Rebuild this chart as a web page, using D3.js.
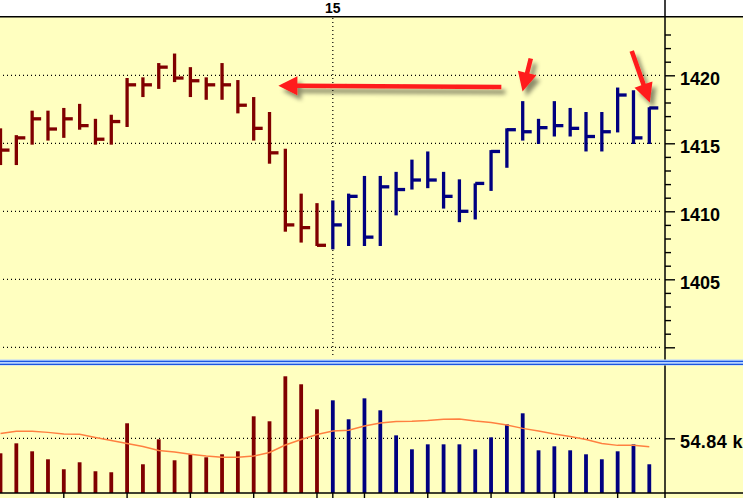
<!DOCTYPE html>
<html><head><meta charset="utf-8">
<script src="https://cdn.jsdelivr.net/npm/d3@7"></script>
<style>html,body{margin:0;padding:0;background:#fff;overflow:hidden}svg{display:block}</style>
</head><body><svg id="c" width="743" height="498"></svg>
<script>
// ---- data (15-minute HLC bars, two sessions) ----
const barIndex = [0,1,2,3,4,5,6,7,8,9,10,11,12,13,14,15,16,17,18,19,20,21,22,23,24,25,26,27,28,29,30,31,32,33,34,35,36,37,38,39,40,41];
const high  = [1416.1,1415.6,1417.4,1417.4,1417.6,1417.9,1416.8,1417.1,1419.8,1419.85,1420.9,1421.6,1420.6,1419.85,1420.9,1419.65,1418.4,1417.3,1414.6,1411.3,1410.6,
               1410.8,1411.3,1412.6,1412.6,1412.9,1413.8,1414.4,1412.9,1412.35,1412.05,1414.5,1416.1,1418.1,1416.8,1418.1,1417.6,1417.3,1417.3,1419.1,1418.9,1417.65];
const low   = [1413.4,1413.4,1414.9,1415.2,1415.4,1416.0,1414.9,1414.9,1416.2,1418.4,1419.0,1419.5,1418.4,1418.2,1418.2,1417.2,1415.2,1413.5,1408.5,1407.7,1407.45,
               1407.2,1407.45,1407.45,1407.45,1409.7,1411.6,1411.7,1410.2,1409.2,1409.4,1411.5,1413.2,1415.2,1414.95,1415.5,1415.5,1414.4,1414.4,1415.8,1414.95,1414.95];
const close = [1414.5,1415.4,1416.8,1416.05,1416.8,1416.3,1415.3,1416.6,1419.3,1419.3,1420.6,1419.8,1419.6,1419.3,1419.3,1417.8,1416.1,1414.3,1409.0,1408.8,1407.5,
               1409.0,1411.1,1408.1,1411.8,1411.6,1412.3,1412.3,1411.1,1410.0,1412.05,1414.4,1416.0,1415.85,1416.15,1416.3,1416.1,1415.5,1415.85,1418.55,1415.4,1417.6];
const volume = [39.8,49.8,41.8,33.8,23.8,30.8,21.8,20.8,69.9,28.8,53.8,32.8,38.8,35.8,38.8,41.8,76.9,71.9,117.0,109.0,83.9,
                92.9,73.9,94.9,82.9,57.8,43.8,48.8,48.8,48.8,43.8,55.8,68.9,79.9,42.8,46.8,42.8,38.8,33.8,41.8,48.8,28.8];
const volumeAvg = [59.6,61.9,61.9,60.8,59.1,58.9,55.6,52.6,49.6,46.6,42.6,41.1,38.8,37.1,35.8,35.8,37.1,40.6,48.1,53.6,58.6,
                   62.2,62.9,67.2,70.2,71.7,71.9,72.7,73.9,74.2,72.2,70.7,68.2,64.8,62.2,59.1,56.6,53.6,49.6,47.8,47.8,46.4];
const dayStartBar = 21;          // first bar of day 15
const dayLabel = "15";
const hourTickBars = [4,8,12,16,20,21,23,27,31,35,39];
const priceMajorTicks = [1420,1415,1410,1405,1400];
const priceTickLabels = ["1420","1415","1410","1405",""];
const priceMinorTicks = [1423,1422,1421,1419,1418,1417,1416,1414,1413,1412,1411,1409,1408,1407,1406,1404,1403,1402,1401];
const volumeRefValue = 54.84;
const volumeRefLabel = "54.84 k";
// annotation arrows in data coordinates [barIndex, price]
const arrows = [
  {from:[31.65,1419.14], to:[17.56,1419.24]},
  {from:[33.51,1421.24], to:[32.99,1418.81]},
  {from:[39.89,1421.79], to:[41.03,1418.0]}
];

// ---- layout ----
const W = 743, H = 498, axisX = 665;
const bg = "#ffffc0", upCol = "#000080", dnCol = "#800000";
const svg = d3.select("#c");
const x = d3.scaleLinear().domain([0,41]).range([0.5,649.3]);
const yP = d3.scaleLinear().domain([1400,1420]).range([347.3,75.3]);
const yV = d3.scaleLinear().domain([0,volumeRefValue]).range([493,438.3]);
const colorOf = i => i >= dayStartBar ? upCol : dnCol;

const defs = svg.append("defs");
const f = defs.append("filter").attr("id","sh").attr("x","-50%").attr("y","-50%").attr("width","200%").attr("height","200%");
f.append("feDropShadow").attr("dx",4).attr("dy",5).attr("stdDeviation",2).attr("flood-color","#000").attr("flood-opacity",0.45);

svg.append("rect").attr("width",W).attr("height",H).attr("fill",bg);
svg.append("rect").attr("width",W).attr("height",16.5).attr("fill","#fff");
svg.append("line").attr("x1",0).attr("x2",W).attr("y1",16.8).attr("y2",16.8).attr("stroke","#000").attr("stroke-width",1.5);

// grid
const g = svg.append("g");
g.selectAll("line.pg").data(priceMajorTicks).join("line")
  .attr("x1",3).attr("x2",axisX-2).attr("y1",d=>yP(d)).attr("y2",d=>yP(d))
  .attr("stroke","#000").attr("stroke-width",1.2).attr("stroke-dasharray","1,3");
g.append("line").attr("x1",x(dayStartBar)).attr("x2",x(dayStartBar)).attr("y1",18).attr("y2",358)
  .attr("stroke","#000").attr("stroke-width",1.2).attr("stroke-dasharray","1,3");
g.append("line").attr("x1",3).attr("x2",axisX-2).attr("y1",yV(volumeRefValue)).attr("y2",yV(volumeRefValue))
  .attr("stroke","#000").attr("stroke-width",1.2).attr("stroke-dasharray","1,3");

// day label
svg.append("text").attr("x",x(dayStartBar)).attr("y",12.8).attr("text-anchor","middle")
  .attr("font-family","Liberation Sans, Arial, sans-serif").attr("font-weight","bold").attr("font-size",14).text(dayLabel);

// price bars
const pb = svg.append("g");
pb.selectAll("line.v").data(barIndex).join("line")
  .attr("x1",i=>x(i)).attr("x2",i=>x(i)).attr("y1",i=>yP(high[i])).attr("y2",i=>yP(low[i]))
  .attr("stroke",colorOf).attr("stroke-width",3.3);
pb.selectAll("line.c").data(barIndex).join("line")
  .attr("x1",i=>x(i)).attr("x2",i=>x(i)+9).attr("y1",i=>yP(close[i])).attr("y2",i=>yP(close[i]))
  .attr("stroke",colorOf).attr("stroke-width",3.3);

// volume bars
svg.append("g").selectAll("rect").data(barIndex).join("rect")
  .attr("x",i=>x(i)-1.9).attr("width",3.8).attr("y",i=>yV(volume[i])).attr("height",i=>493-yV(volume[i]))
  .attr("fill",colorOf);
svg.append("path").datum(barIndex)
  .attr("d",d3.line().x(i=>x(i)).y(i=>yV(volumeAvg[i])))
  .attr("fill","none").attr("stroke","#ff8040").attr("stroke-width",1.4);

// separator
svg.append("rect").attr("x",0).attr("y",359.5).attr("width",W).attr("height",6).attr("fill","#b8d4ff");
svg.append("line").attr("x1",0).attr("x2",W).attr("y1",361.3).attr("y2",361.3).attr("stroke","#1a56e0").attr("stroke-width",1.2);
svg.append("line").attr("x1",0).attr("x2",W).attr("y1",364.3).attr("y2",364.3).attr("stroke","#1a56e0").attr("stroke-width",1.2);

// axes
const fontFam = "Liberation Sans, Arial, sans-serif";
const axMinor = d3.axisRight(yP).tickValues(priceMinorTicks).tickSize(6).tickFormat("");
const axMajor = d3.axisRight(yP).tickValues(priceMajorTicks).tickSize(10).tickPadding(5)
  .tickFormat(d=>priceTickLabels[priceMajorTicks.indexOf(d)]);
[axMinor, axMajor].forEach(a=>{
  const ga = svg.append("g").attr("transform",`translate(${axisX},0)`).call(a);
  ga.select(".domain").remove();
  ga.selectAll("line").attr("stroke","#000").attr("stroke-width",1.4);
  ga.selectAll("text").attr("font-family",fontFam).attr("font-weight","bold").attr("font-size",18).attr("fill","#000").attr("dy","0.52em");
});
const axV = d3.axisRight(yV).tickValues([volumeRefValue]).tickSize(10).tickPadding(5).tickFormat(()=>volumeRefLabel);
const gv = svg.append("g").attr("transform",`translate(${axisX},0)`).call(axV);
gv.select(".domain").remove();
gv.selectAll("line").attr("stroke","#000").attr("stroke-width",1.4);
gv.selectAll("text").attr("font-family",fontFam).attr("font-weight","bold").attr("font-size",18).attr("fill","#000")
  .attr("dy","0.52em").attr("letter-spacing","0.4px");

svg.append("line").attr("x1",axisX).attr("x2",axisX).attr("y1",0).attr("y2",359.5).attr("stroke","#000").attr("stroke-width",1.5);
svg.append("line").attr("x1",axisX).attr("x2",axisX).attr("y1",365.5).attr("y2",H).attr("stroke","#000").attr("stroke-width",1.5);

// time axis
svg.append("line").attr("x1",0).attr("x2",W).attr("y1",493).attr("y2",493).attr("stroke","#000").attr("stroke-width",1.5);
svg.append("g").selectAll("line").data(hourTickBars).join("line")
  .attr("x1",i=>x(i)).attr("x2",i=>x(i)).attr("y1",493).attr("y2",H).attr("stroke","#000").attr("stroke-width",1.4);

// arrows
const ag = svg.append("g").attr("filter","url(#sh)");
arrows.forEach(a=>{
  const x1=x(a.from[0]), y1=yP(a.from[1]), x2=x(a.to[0]), y2=yP(a.to[1]);
  const L=Math.hypot(x2-x1,y2-y1), ang=Math.atan2(y2-y1,x2-x1);
  const hl=19, hw=9.5, sw=2.3;
  const pts=[[0,-sw],[L-hl,-sw],[L-hl,-hw],[L,0],[L-hl,hw],[L-hl,sw],[0,sw]]
    .map(([u,v])=>[x1+u*Math.cos(ang)-v*Math.sin(ang), y1+u*Math.sin(ang)+v*Math.cos(ang)]);
  ag.append("path").attr("d","M"+pts.map(p=>p.join(",")).join("L")+"Z").attr("fill","#ff1c1c");
});
</script></body></html>
